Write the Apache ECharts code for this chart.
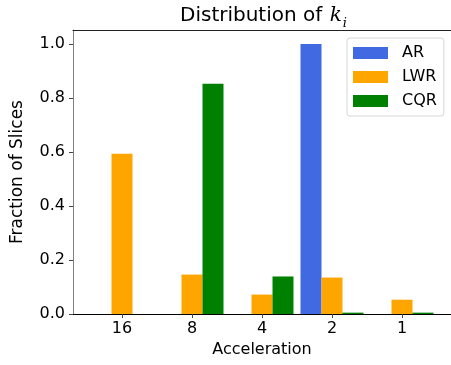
<!DOCTYPE html>
<html>
<head>
<meta charset="utf-8">
<script src="https://cdn.jsdelivr.net/npm/echarts@6/dist/echarts.min.js"></script>
<style>
html,body{margin:0;padding:0;background:#fff;}
#chart{width:451px;height:365px;}
</style>
</head>
<body>
<div id="chart"></div>
<script>
const categories = ['16', '8', '4', '2', '1'];
const arValues  = [0, 0, 0, 1.0, 0];
const lwrValues = [0.594, 0.146, 0.072, 0.135, 0.053];
const cqrValues = [0, 0.853, 0.139, 0.005, 0.005];
const yTicks = [0, 0.2, 0.4, 0.6, 0.8, 1.0];

const positions = categories.map((c, i) => i);
const toData = vals => vals.map((v, i) => [positions[i], v]);

const FONT = 'DejaVu Sans';
const chart = echarts.init(document.getElementById('chart'), null, {renderer: 'canvas'});

const option = {
  animation: false,
  backgroundColor: '#fff',
  title: {
    text: '{a|Distribution of }{k|k}{i|i}',
    left: 180,
    top: 0,
    padding: 0,
    textStyle: {
      fontWeight: 'normal',
      rich: {
        a: {fontFamily: FONT, fontSize: 20, fontWeight: 'normal', color: '#000', verticalAlign: 'bottom', lineHeight: 26},
        k: {fontFamily: 'DejaVu Serif', fontStyle: 'italic', fontWeight: 'normal', fontSize: 20, color: '#000', verticalAlign: 'bottom', lineHeight: 26, padding: [0, 0, 0, 1]},
        i: {fontFamily: 'DejaVu Serif', fontStyle: 'italic', fontWeight: 'normal', fontSize: 13, color: '#000', verticalAlign: 'bottom', lineHeight: 26, padding: [0, 0, -4, 1]}
      }
    }
  },
  legend: {
    orient: 'vertical',
    left: 347,
    top: 38,
    itemWidth: 35,
    itemHeight: 12,
    itemGap: 8,
    icon: 'rect',
    backgroundColor: '#fff',
    borderColor: '#d6d6d6',
    borderWidth: 1,
    borderRadius: 3,
    padding: [7, 7, 7, 6],
    textStyle: {fontFamily: FONT, fontSize: 16, color: '#000', padding: [0, 0, 0, 9]},
    data: ['AR', 'LWR', 'CQR']
  },
  grid: {left: 73, top: 30, right: -3, bottom: 51, containLabel: false},
  xAxis: [{
    type: 'value',
    min: -0.7,
    max: 4.7,
    splitLine: {show: false},
    axisLine: {show: true, onZero: false, lineStyle: {color: '#000', width: 1}},
    axisTick: {show: true, customValues: positions, length: 4, lineStyle: {color: '#444'}},
    axisLabel: {
      customValues: positions,
      margin: 7,
      fontFamily: FONT, fontSize: 16, color: '#000',
      formatter: v => categories[Math.round(v)]
    },
    name: 'Acceleration',
    nameLocation: 'middle',
    nameGap: 25,
    nameTextStyle: {fontFamily: FONT, fontSize: 16, color: '#000', verticalAlign: 'top'}
  }, {
    type: 'value',
    position: 'top',
    min: -0.7,
    max: 4.7,
    splitLine: {show: false},
    axisLine: {show: true, onZero: false, lineStyle: {color: '#222', width: 1}},
    axisTick: {show: false},
    axisLabel: {show: false}
  }],
  yAxis: {
    type: 'value',
    min: 0,
    max: 1.052,
    splitLine: {show: false},
    axisLine: {show: true, onZero: false, lineStyle: {color: '#808080', width: 1}},
    axisTick: {show: true, customValues: yTicks, length: 4, lineStyle: {color: '#444'}},
    axisLabel: {
      customValues: yTicks,
      margin: 8,
      fontFamily: FONT, fontSize: 16, color: '#000',
      formatter: v => v.toFixed(1)
    },
    name: 'Fraction of Slices',
    nameLocation: 'middle',
    nameGap: 47,
    nameTextStyle: {fontFamily: FONT, fontSize: 17, color: '#000'}
  },
  series: [
    {name: 'AR', type: 'bar', xAxisIndex: 0, data: toData(arValues), barWidth: 21, barGap: '0%', itemStyle: {color: '#4169E1'}},
    {name: 'LWR', type: 'bar', xAxisIndex: 0, data: toData(lwrValues), barWidth: 21, barGap: '0%', itemStyle: {color: '#FFA500'}},
    {name: 'CQR', type: 'bar', xAxisIndex: 0, data: toData(cqrValues), barWidth: 21, barGap: '0%', itemStyle: {color: '#008000'}}
  ]
};
chart.setOption(option);
</script>
</body>
</html>
